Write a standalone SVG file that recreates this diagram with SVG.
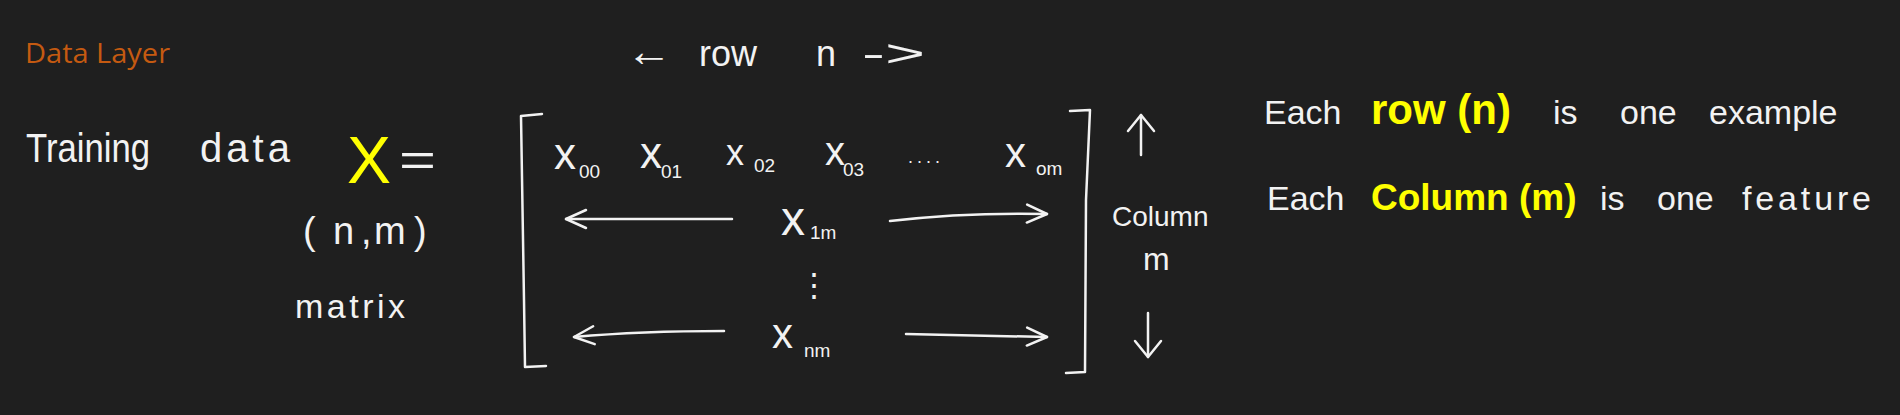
<svg xmlns="http://www.w3.org/2000/svg" width="1900" height="415" viewBox="0 0 1900 415">
<style>
text { font-family: "Liberation Sans", Arial, sans-serif; fill: #f2f2f2; }
.title { font-family: "Open Sans", "Liberation Sans", sans-serif; fill: #c55a11; font-size: 27px; }
.hl { fill: #ffff00; font-weight: bold; }
.sub { font-size: 19px; }
.ln { fill: none; stroke: #f2f2f2; stroke-width: 2.5; stroke-linecap: round; stroke-linejoin: round; }
</style>
<defs>
<marker id="hrow" markerUnits="userSpaceOnUse" viewBox="0 0 24 22" markerWidth="24" markerHeight="22" refX="22" refY="11" orient="auto-start-reverse">
<path d="M2,2 L22,11 L2,20" fill="none" stroke="#f2f2f2" stroke-width="2.5" stroke-linecap="round" stroke-linejoin="round"/>
</marker>
<marker id="hcol" markerUnits="userSpaceOnUse" viewBox="0 0 20 30" markerWidth="20" markerHeight="30" refX="18" refY="15" orient="auto">
<path d="M2,2 L18,15 L2,28" fill="none" stroke="#f2f2f2" stroke-width="2.5" stroke-linecap="round" stroke-linejoin="round"/>
</marker>
</defs>
<rect width="1900" height="415" fill="#1f1f1f"/>

<g id="title">
<text class="title" x="25" y="63" font-size="28" style="font-size:28px" textLength="145" lengthAdjust="spacingAndGlyphs">Data Layer</text>
</g>

<g id="training-label">
<text y="162" font-size="40"><tspan x="26" textLength="124" lengthAdjust="spacingAndGlyphs">Training</tspan> <tspan x="200" textLength="90">data</tspan></text>
<text x="347" y="183" font-size="66" style="fill:#ffff00">X</text>
<text x="399" y="176" font-size="46" textLength="37" lengthAdjust="spacingAndGlyphs">=</text>
</g>

<g id="shape-label">
<text x="303 333 361 374 414" y="244" font-size="38">(n,m)</text>
<text x="295" y="318" font-size="34" textLength="110">matrix</text>
</g>

<g id="row-label">
<text y="66" font-size="36"><tspan x="626" font-size="44" textLength="46" lengthAdjust="spacingAndGlyphs">←</tspan> <tspan x="699">row</tspan> <tspan x="816">n</tspan> <tspan x="862" textLength="63" lengthAdjust="spacingAndGlyphs">-&gt;</tspan></text>
</g>

<g id="matrix">
<path class="ln" d="M542,114 L521,116 L524,300 L525,367 L546,366"/>
<path class="ln" d="M1070,111 L1090,110 L1086,200 L1085,372 L1066,373"/>
<text x="554" y="169" font-size="44">x<tspan class="sub" x="579" y="178">00</tspan></text>
<text x="640" y="168" font-size="44">x<tspan class="sub" x="661" y="178">01</tspan></text>
<text x="726" y="165" font-size="36">x<tspan class="sub" x="754" y="172">02</tspan></text>
<text x="825" y="165" font-size="40">x<tspan class="sub" x="843" y="176" font-size="21">03</tspan></text>
<text x="908" y="163" font-size="18" textLength="32">....</text>
<text x="1005" y="167" font-size="42">x<tspan class="sub" x="1036" y="175" font-size="21">om</tspan></text>
<text x="781" y="235" font-size="48">x<tspan class="sub" x="810" y="239" font-size="22">1m</tspan></text>
<text x="798" y="296" font-size="32">⋮</text>
<text x="772" y="348" font-size="42">x<tspan class="sub" x="804" y="357" font-size="28">nm</tspan></text>
</g>

<g id="column-label">
<text x="1112" y="226" font-size="28">Column</text>
<text x="1143" y="270" font-size="32">m</text>
</g>

<g id="notes">
<text y="124" font-size="34"><tspan x="1264">Each</tspan> <tspan class="hl" x="1371" font-size="42">row (n)</tspan> <tspan x="1553">is</tspan> <tspan x="1620">one</tspan> <tspan x="1709">example</tspan></text>
<text y="210" font-size="34"><tspan x="1267">Each</tspan> <tspan class="hl" x="1371" font-size="37">Column (m)</tspan> <tspan x="1600">is</tspan> <tspan x="1657">one</tspan> <tspan x="1742" textLength="129">feature</tspan></text>
</g>

<g id="connectors">
<path class="ln" d="M566,219 L732,219" marker-start="url(#hrow)"/>
<path class="ln" d="M890,221 C950,214 1000,213 1047,214" marker-end="url(#hrow)"/>
<path class="ln" d="M574,337 C630,332 680,331 724,331" marker-start="url(#hrow)"/>
<path class="ln" d="M906,334 L1047,337" marker-end="url(#hrow)"/>
<path class="ln" d="M1141,155 L1141,115" marker-end="url(#hcol)"/>
<path class="ln" d="M1148,313 L1148,357" marker-end="url(#hcol)"/>
</g>
</svg>
